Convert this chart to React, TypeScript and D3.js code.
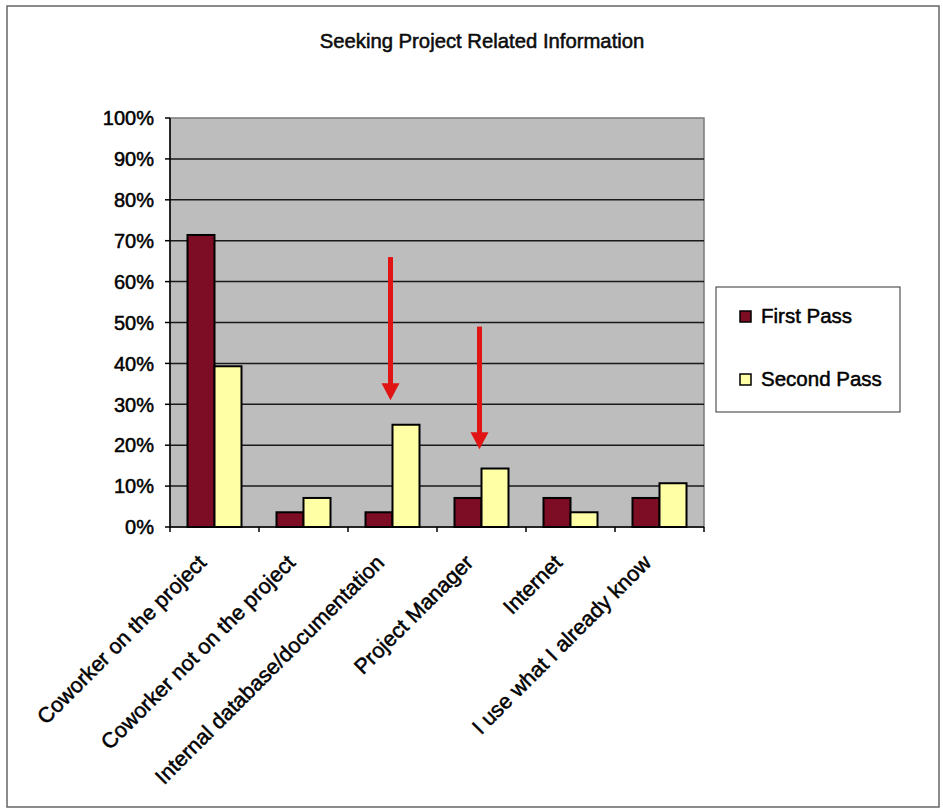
import React from "react";
import * as d3 from "d3";

const categories = [
  "Coworker on the project",
  "Coworker not on the project",
  "Internal database/documentation",
  "Project Manager",
  "Internet",
  "I use what I already know",
];
const seriesNames = ["First Pass", "Second Pass"];
const firstPass = [71.4, 3.6, 3.6, 7.1, 7.1, 7.1];
const secondPass = [39.3, 7.1, 25.0, 14.3, 3.6, 10.7];
const yTicks = [0, 10, 20, 30, 40, 50, 60, 70, 80, 90, 100];
const arrowCategories = ["Internal database/documentation", "Project Manager"];
const arrowFrom = [66, 49];
const arrowTo = [31, 19];
const title = "Seeking Project Related Information";

const COLORS = ["#7d0d24", "#ffffa6"];
const FONT = "Arial, 'Liberation Sans', Helvetica, sans-serif";
const TS = { stroke: "#000", strokeWidth: 0.5 };

export default function App() {
  const W = 943, H = 810;
  const left = 170, right = 704, top = 118, bottom = 527;
  const x = d3.scaleBand<string>().domain(categories).range([left, right]).paddingInner(0).paddingOuter(0);
  const xi = d3.scaleBand<string>().domain(seriesNames).range([0, x.bandwidth()]).paddingInner(0).paddingOuter(0.648);
  const y = d3.scaleLinear().domain([0, 100]).range([bottom, top]);
  const series = [firstPass, secondPass];

  return (
    <svg width={W} height={H} style={{ position: "absolute", left: 0, top: 0, background: "#fff" }} fontFamily={FONT}>
      <rect x={7} y={6} width={932} height={801} fill="#fff" stroke="#666" strokeWidth={1.5} />
      <text x={482} y={48} textAnchor="middle" fontSize={20.3} fill="#111" {...TS}>{title}</text>

      {/* plot area */}
      <rect x={left} y={top} width={right - left} height={bottom - top} fill="#bdbdbd" stroke="#7a7a7a" strokeWidth={1.5} />
      {yTicks.filter((t) => t > 0 && t < 100).map((t) => (
        <line key={t} x1={left} x2={right} y1={y(t)} y2={y(t)} stroke="#1a1a1a" strokeWidth={1.5} />
      ))}

      {/* bars */}
      {categories.map((c, i) => (
        <g key={c}>
          {series.map((s, j) => (
            <rect
              key={j}
              x={(x(c) ?? 0) + (xi(seriesNames[j]) ?? 0)}
              y={y(s[i])}
              width={xi.bandwidth()}
              height={y(0) - y(s[i])}
              fill={COLORS[j]}
              stroke="#000"
              strokeWidth={2}
            />
          ))}
        </g>
      ))}

      {/* arrows */}
      {arrowCategories.map((c, i) => {
        const cx = (x(c) ?? 0) + x.bandwidth() / 2 - 2;
        const y0 = y(arrowFrom[i]);
        const y1 = y(arrowTo[i]);
        const head = 17;
        return (
          <g key={c}>
            <line x1={cx} x2={cx} y1={y0} y2={y1 - head + 1} stroke="#e01414" strokeWidth={5} />
            <polygon points={`${cx - 9},${y1 - head} ${cx + 9},${y1 - head} ${cx},${y1}`} fill="#e01414" />
          </g>
        );
      })}

      {/* y axis */}
      <line x1={left} x2={left} y1={top} y2={bottom} stroke="#000" strokeWidth={1.5} />
      {yTicks.map((t) => (
        <g key={t}>
          <line x1={left - 5} x2={left} y1={y(t)} y2={y(t)} stroke="#000" strokeWidth={1.5} />
          <text x={154} y={y(t)} dy="0.36em" textAnchor="end" fontSize={20} fill="#000" {...TS}>{t}%</text>
        </g>
      ))}

      {/* x axis */}
      <line x1={left} x2={right} y1={bottom} y2={bottom} stroke="#000" strokeWidth={1.5} />
      {categories.map((c) => (
        <line key={c} x1={x(c) ?? 0} x2={x(c) ?? 0} y1={bottom} y2={bottom + 5} stroke="#000" strokeWidth={1.5} />
      ))}
      <line x1={right} x2={right} y1={bottom} y2={bottom + 5} stroke="#000" strokeWidth={1.5} />
      {categories.map((c) => {
        const cx = (x(c) ?? 0) + x.bandwidth() / 2 - 7;
        const cy = bottom + 37;
        return (
          <text key={c} x={cx} y={cy} textAnchor="end" fontSize={21.5} fill="#000" transform={`rotate(-45 ${cx} ${cy})`} {...TS}>
            {c}
          </text>
        );
      })}

      {/* legend */}
      <rect x={716} y={287} width={184} height={125} fill="#fff" stroke="#333" strokeWidth={1} />
      {seriesNames.map((n, j) => (
        <g key={n}>
          <rect x={740} y={311 + j * 63} width={11} height={11} fill={COLORS[j]} stroke="#000" strokeWidth={1.5} />
          <text x={761} y={323 + j * 63} fontSize={20.5} fill="#000" {...TS}>{n}</text>
        </g>
      ))}
    </svg>
  );
}
